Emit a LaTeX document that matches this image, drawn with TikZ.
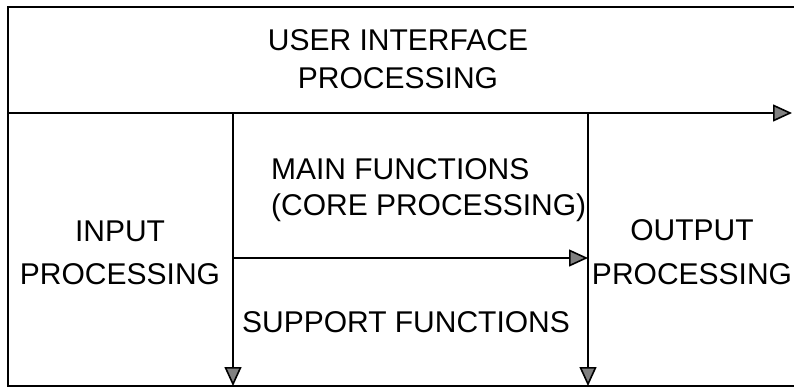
\documentclass[tikz,border=0pt]{standalone}
\usepackage{fontspec}
\setmainfont{Liberation Sans}
\usetikzlibrary{arrows.meta}
\begin{document}
\begin{tikzpicture}[x=1pt, y=-1pt, line width=2.2pt,
  flow/.style={-{Triangle[length=19pt, width=17pt, fill=gray, line width=1.6pt]}},
  txt/.style={inner sep=0pt, text=black}]
\useasboundingbox (0,0) rectangle (794,389);

% frame corners and flow end points
\coordinate (tl) at (8,7);
\coordinate (tr) at (794,7);
\coordinate (bl) at (8,386);
\coordinate (br) at (794,386);
\coordinate (ml) at (8,113);
\coordinate (mr) at (792,113);
\coordinate (c1t) at (233,113);
\coordinate (c1b) at (233,386);
\coordinate (c2t) at (588,113);
\coordinate (c2b) at (588,386);
\coordinate (hl) at (233,258);
\coordinate (hr) at (588,258);

% outer frame (open on the right)
\draw (tr) -- (tl) -- (bl) -- (br);

% flows
\draw[flow] (ml) -- (mr);
\draw[flow] (c1t) -- (c1b);
\draw[flow] (c2t) -- (c2b);
\draw[flow] (hl) -- (hr);

% labels
\node[txt, align=center, anchor=north, font=\fontsize{30pt}{38pt}\selectfont]
  (ui) at (398,28) {USER INTERFACE\\PROCESSING};
\node[txt, align=left, anchor=north west, font=\fontsize{30pt}{36pt}\selectfont]
  (core) at (270,157) {MAIN FUNCTIONS\\(CORE PROCESSING)};
\node[txt, align=center, anchor=north, font=\fontsize{30pt}{43pt}\selectfont]
  (inp) at (120,220) {INPUT\\PROCESSING};
\node[txt, align=center, anchor=north, font=\fontsize{30pt}{44pt}\selectfont]
  (outp) at (692,218) {OUTPUT\\PROCESSING};
\node[txt, anchor=base west, font=\fontsize{30pt}{36pt}\selectfont]
  (supp) at (241,332) {SUPPORT FUNCTIONS};
\end{tikzpicture}
\end{document}
